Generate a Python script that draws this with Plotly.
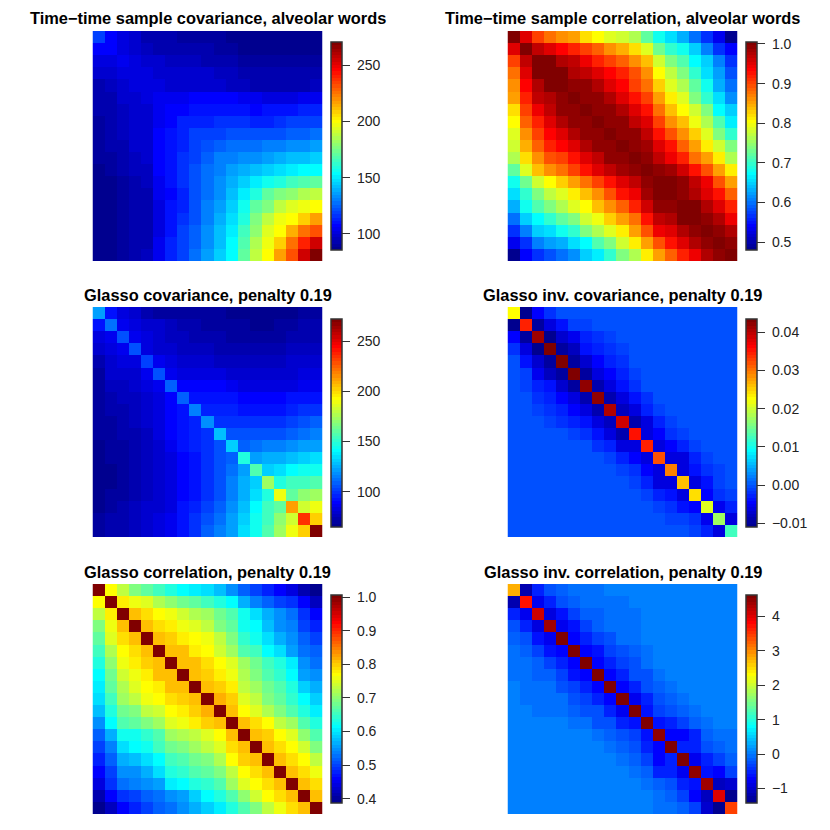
import plotly.graph_objects as go

# Upper triangles, one list per row, starting at the diagonal (matrices are symmetric).
sample_cov = [
 [118,106,102,98,94,93,92,91,91,90,89,87,87,87,86,85,86,86,87],
 [108,101,97,96,94,93,92,92,92,91,90,88,88,88,88,88,88,88],
 [104,100,98,97,95,95,95,94,93,92,90,90,90,90,90,90,90],
 [102,101,99,98,97,97,97,96,95,93,92,92,92,92,92,92],
 [102,101,99,99,99,99,98,96,95,94,93,94,94,94,95],
 [104,104,105,108,108,108,107,105,104,102,102,102,104,104],
 [106,108,110,111,111,110,109,108,110,110,111,112,114],
 [112,114,114,115,115,115,113,113,116,118,119,120],
 [118,118,120,121,122,122,123,123,124,125,127],
 [122,124,126,126,127,129,130,132,133,135],
 [130,131,132,133,135,138,141,143,145],
 [136,140,143,146,148,151,153,154],
 [145,150,155,160,164,168,171],
 [160,170,176,181,186,189],
 [178,187,193,197,199],
 [197,201,210,216],
 [213,225,231],
 [240,254],
 [271],
]
sample_cor = [
 [1.0,.954,.906,.88,.864,.851,.82,.808,.79,.78,.764,.72,.677,.655,.63,.60,.565,.53,.482],
 [1.0,.972,.955,.939,.915,.90,.885,.865,.845,.82,.785,.73,.70,.677,.65,.611,.57,.54],
 [1.0,.997,.98,.965,.94,.92,.906,.885,.865,.835,.78,.74,.71,.67,.645,.605,.57],
 [1.0,.997,.98,.965,.95,.938,.92,.895,.86,.80,.775,.735,.70,.66,.62,.58],
 [1.0,.995,.993,.975,.955,.938,.90,.875,.825,.79,.76,.72,.677,.635,.595],
 [1.0,.995,.99,.973,.955,.925,.90,.85,.81,.785,.74,.70,.655,.615],
 [1.0,.995,.99,.975,.955,.925,.875,.84,.808,.78,.735,.67,.645],
 [1.0,.995,.99,.972,.95,.90,.86,.835,.795,.76,.71,.665],
 [1.0,.995,.99,.97,.925,.895,.865,.825,.785,.74,.70],
 [1.0,.995,.985,.955,.925,.885,.855,.815,.78,.735],
 [1.0,.995,.97,.94,.915,.88,.85,.81,.765],
 [1.0,.993,.985,.96,.93,.895,.855,.81],
 [1.0,.997,.993,.97,.94,.895,.85],
 [1.0,.995,.98,.955,.925,.885],
 [1.0,.998,.98,.955,.915],
 [1.0,.993,.975,.945],
 [1.0,.995,.975],
 [1.0,.995],
 [1.0],
]
glasso_cov = [
 [122,91,82,78,73,71,71,69,69,69,69,67,66,65,65,67,68,69,69],
 [112,87,82,80,78,75,73,72,71,71,70,69,68,68,70,71,72,72],
 [107,85,82,78,77,75,74,73,72,71,70,70,71,71,72,73,73],
 [106,84,80,78,77,76,75,74,73,73,73,73,74,75,75,75],
 [103,85,82,80,79,79,77,76,75,75,76,77,78,78,79],
 [106,87,84,84,83,82,80,80,79,80,80,81,82,83],
 [108,88,88,90,90,86,84,83,83,84,84,85,87],
 [108,91,93,93,91,90,89,89,89,91,93,94],
 [115,97,97,96,93,91,94,94,96,99,100],
 [118,100,99,99,99,99,100,103,104,108],
 [127,106,105,105,106,107,110,112,115],
 [132,110,113,115,115,118,120,122],
 [146,120,124,125,128,130,133],
 [158,130,135,140,143,144],
 [173,146,153,155,156],
 [190,161,170,173],
 [212,183,190],
 [236,203],
 [272],
]
glasso_inv_cov = [
 [.023,-.0105,-.0042,-.0024,-.0005,-.0004,-.0001,0,0,0,0,0,0,0,0,0,0,0,0],
 [.0345,-.0095,-.0065,-.0033,-.0015,-.001,-.0003,-.0002,0,0,0,0,0,0,0,0,0,0],
 [.0414,-.0108,-.0073,-.0053,-.0025,-.002,-.0012,-.0002,0,0,0,0,0,0,0,0,0],
 [.0434,-.0096,-.008,-.0037,-.0025,-.0018,-.001,0,0,0,0,0,0,0,0,0],
 [.0432,-.0098,-.0075,-.0047,-.0028,-.0019,-.0006,0,0,0,0,0,0,0,0],
 [.0434,-.0096,-.0065,-.0044,-.0028,-.0014,0,0,0,0,0,0,0,0],
 [.0425,-.0092,-.0065,-.0037,-.0019,-.0007,0,0,0,0,0,0,0],
 [.0422,-.0085,-.0065,-.0038,-.0019,-.0006,0,0,0,0,0,0],
 [.0405,-.0082,-.006,-.0032,-.0014,0,0,0,0,0,0],
 [.0385,-.0085,-.0065,-.0028,-.0015,-.0004,0,0,0,0],
 [.0355,-.0065,-.0045,-.0023,-.0014,-.0004,0,0,0],
 [.0342,-.0065,-.0045,-.0028,-.001,-.0003,0,0],
 [.0318,-.0065,-.006,-.0028,-.0015,-.0003,0],
 [.0295,-.0065,-.0033,-.0024,-.001,-.0003],
 [.0262,-.006,-.0033,-.0015,-.0007],
 [.024,-.0045,-.002,-.0014],
 [.0205,-.0053,-.0032],
 [.0172,-.0065],
 [.0128],
]
glasso_cor = [
 [1.0,.765,.735,.69,.675,.655,.635,.615,.605,.595,.575,.548,.515,.495,.48,.46,.44,.415,.39],
 [1.0,.78,.76,.745,.72,.705,.685,.67,.655,.635,.61,.565,.54,.52,.50,.485,.46,.425],
 [1.0,.808,.79,.77,.755,.74,.725,.71,.685,.66,.62,.595,.57,.545,.525,.49,.46],
 [1.0,.808,.79,.775,.76,.745,.73,.695,.675,.625,.61,.58,.548,.535,.50,.48],
 [1.0,.808,.795,.78,.768,.755,.73,.695,.645,.625,.595,.57,.548,.515,.50],
 [1.0,.812,.803,.78,.765,.74,.715,.665,.65,.615,.595,.56,.53,.515],
 [1.0,.812,.803,.785,.765,.75,.715,.685,.655,.63,.605,.548,.53],
 [1.0,.808,.80,.775,.755,.72,.695,.665,.645,.61,.56,.545],
 [1.0,.812,.80,.78,.735,.715,.685,.66,.635,.59,.57],
 [1.0,.815,.795,.75,.73,.695,.675,.64,.61,.59],
 [1.0,.812,.77,.75,.72,.695,.665,.635,.605],
 [1.0,.803,.79,.765,.73,.715,.665,.635],
 [1.0,.812,.795,.772,.745,.705,.665],
 [1.0,.812,.79,.772,.74,.695],
 [1.0,.812,.79,.765,.73],
 [1.0,.812,.785,.76],
 [1.0,.808,.785],
 [1.0,.805],
 [1.0],
]
glasso_inv_cor = [
 [2.78,-1.2,-.48,-.2,-.12,-.05,-.04,-.01,0,0,0,0,0,0,0,0,0,0,0],
 [3.77,-.85,-.57,-.2,-.1,-.08,-.04,-.03,-.01,0,0,0,0,0,0,0,0,0],
 [4.1,-.9,-.58,-.37,-.15,-.1,-.05,-.03,-.01,0,0,0,0,0,0,0,0],
 [4.4,-.85,-.58,-.33,-.15,-.08,-.05,-.02,0,0,0,0,0,0,0,0],
 [4.55,-.75,-.48,-.33,-.2,-.07,-.02,0,0,0,0,0,0,0,0],
 [4.55,-.7,-.62,-.33,-.25,-.1,-.04,0,0,0,0,0,0,0],
 [4.55,-.75,-.57,-.33,-.2,-.07,0,0,0,0,0,0,0],
 [4.55,-.7,-.57,-.28,-.2,-.04,0,0,0,0,0,0],
 [4.55,-.7,-.52,-.28,-.15,-.03,0,0,0,0,0],
 [4.55,-.8,-.57,-.25,-.15,-.04,0,0,0,0],
 [4.55,-.62,-.37,-.28,-.15,-.03,0,0,0],
 [4.55,-.62,-.52,-.33,-.15,-.04,0,0],
 [4.5,-.75,-.7,-.48,-.15,-.08,-.02],
 [4.55,-.57,-.48,-.28,-.14,-.02],
 [4.55,-.8,-.52,-.33,-.12],
 [4.5,-.62,-.7,-.37],
 [4.35,-1.1,-1.0],
 [4.0,-1.4],
 [3.45],
]

titles = ["Time\u2212time sample covariance, alveolar words",
          "Time\u2212time sample correlation, alveolar words",
          "Glasso covariance, penalty 0.19",
          "Glasso inv. covariance, penalty 0.19",
          "Glasso correlation, penalty 0.19",
          "Glasso inv. correlation, penalty 0.19"]
z_limits = [(85.4, 271), (0.48, 1.005), (65, 272), (-0.0109, 0.0434), (0.387, 1.006), (-1.42, 4.62)]
tick_vals = [[100, 150, 200, 250], [0.5, 0.6, 0.7, 0.8, 0.9, 1.0], [100, 150, 200, 250],
             [-0.01, 0, 0.01, 0.02, 0.03, 0.04], [0.4, 0.5, 0.6, 0.7, 0.8, 0.9, 1.0], [-1, 0, 1, 2, 3, 4]]
tick_text = [["100", "150", "200", "250"], ["0.5", "0.6", "0.7", "0.8", "0.9", "1.0"], ["100", "150", "200", "250"],
             ["\u22120.01", "0.00", "0.01", "0.02", "0.03", "0.04"],
             ["0.4", "0.5", "0.6", "0.7", "0.8", "0.9", "1.0"], ["\u22121", "0", "1", "2", "3", "4"]]
matrices = [sample_cov, sample_cor, glasso_cov, glasso_inv_cov, glasso_cor, glasso_inv_cor]

# Pixel layout
W = H = 830
panel_left = [92.5, 507.5]
panel_w = 230
panel_top = [31, 307, 584]
panel_h = 230
bar_left = [331, 746]
bar_w = 11
bar_top = [42, 319, 595]
bar_h = 208
title_y = [18, 295, 572]
FONT = "Liberation Sans, Arial, Helvetica, sans-serif"


def mirror(rows):
    n = len(rows)
    m = [[0.0] * n for _ in range(n)]
    for i, row in enumerate(rows):
        for k, v in enumerate(row):
            m[i][i + k] = v
            m[i + k][i] = v
    return m


def tim_colorscale(n=64):
    # 64-step ramp: blue at bin 7, cyan at 23, yellow at 39, red at 55, dark red at 63
    anchors = [(0, (0, 0, 143)), (7, (0, 0, 255)), (23, (0, 255, 255)), (39, (255, 255, 0)),
               (55, (255, 0, 0)), (63, (128, 0, 0))]
    scale = []
    for i in range(n):
        for (a, ca), (b, cb) in zip(anchors, anchors[1:]):
            if i <= b:
                u = (i - a) / (b - a)
                c = [round(x + (y - x) * u) for x, y in zip(ca, cb)]
                break
        col = f"rgb({c[0]},{c[1]},{c[2]})"
        scale.append([i / n, col])
        scale.append([(i + 1) / n, col])
    return scale


cs = tim_colorscale()
fig = go.Figure()
layout = {}
annotations = []
for k, rows in enumerate(matrices):
    r, c = k // 2, k % 2
    name = "" if k == 0 else str(k + 1)
    fig.add_trace(go.Heatmap(
        z=mirror(rows), xaxis="x" + name, yaxis="y" + name, colorscale=cs,
        zmin=z_limits[k][0], zmax=z_limits[k][1], zsmooth=False, hoverinfo="skip",
        colorbar=dict(
            x=bar_left[c] / W, xanchor="left", xpad=0, ypad=0,
            y=1 - (bar_top[r] + bar_h) / H, yanchor="bottom",
            thickness=bar_w, thicknessmode="pixels", len=bar_h, lenmode="pixels",
            outlinewidth=1.5, outlinecolor="#333333", borderwidth=0,
            tickmode="array", tickvals=tick_vals[k],
            ticktext=["\u00a0" + t for t in tick_text[k]],
            ticks="outside", ticklen=8, tickwidth=1, tickcolor="#333333",
            tickfont=dict(family=FONT, size=14, color="#222222"),
        ),
    ))
    layout["xaxis" + name] = dict(domain=[panel_left[c] / W, (panel_left[c] + panel_w) / W],
                                  visible=False, range=[-0.5, 18.5], anchor="y" + name)
    layout["yaxis" + name] = dict(domain=[1 - (panel_top[r] + panel_h) / H, 1 - panel_top[r] / H],
                                  visible=False, range=[18.5, -0.5], anchor="x" + name)
    annotations.append(dict(text=f"<b>{titles[k]}</b>", xref="paper", yref="paper",
                            x=(panel_left[c] + panel_w / 2) / W, y=1 - title_y[r] / H,
                            xanchor="center", yanchor="middle", showarrow=False,
                            font=dict(family=FONT, size=16.4, color="black")))

fig.update_layout(width=W, height=H, margin=dict(l=0, r=0, t=0, b=0), paper_bgcolor="white",
                  plot_bgcolor="white", annotations=annotations, **layout)
fig.write_html("out.html", post_script="document.body.style.margin='0';", config={"displayModeBar": False})
